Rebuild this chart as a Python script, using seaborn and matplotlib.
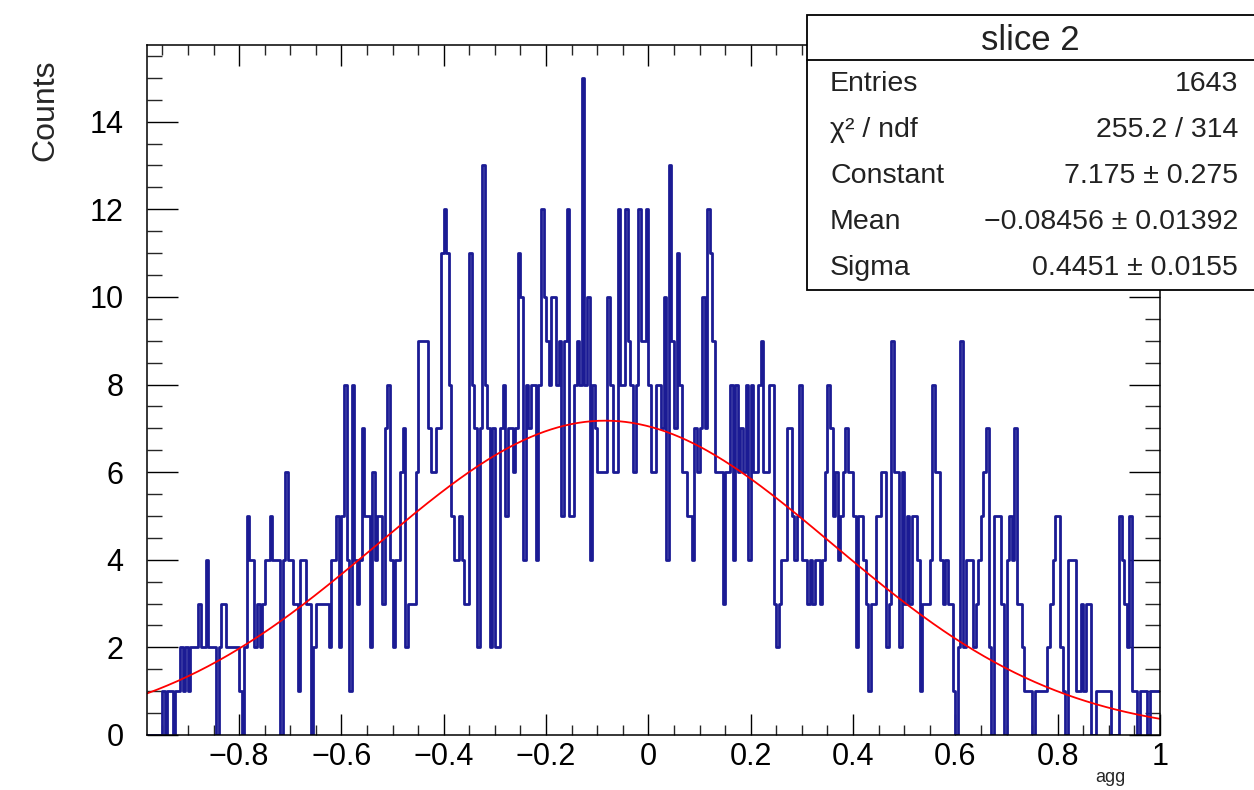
import numpy as np
import pandas as pd
import matplotlib
matplotlib.use("Agg")
import matplotlib.pyplot as plt
import seaborn as sns
from matplotlib.patches import Rectangle
from matplotlib.lines import Line2D
from matplotlib.ticker import MultipleLocator

# ---------------- data ----------------
counts = [
    0, 0, 0, 0, 0, 0, 0, 0, 0, 0,
    1, 0, 1, 1, 0, 1, 1, 2, 1, 2,
    1, 2, 2, 2, 3, 2, 2, 4, 2, 2,
    2, 0, 2, 3, 3, 2, 2, 2, 2, 2,
    1, 0, 2, 5, 4, 4, 2, 3, 2, 3,
    4, 4, 5, 4, 4, 4, 0, 4, 6, 4,
    4, 3, 3, 1, 4, 4, 3, 3, 0, 2,
    3, 3, 3, 3, 3, 2, 4, 4, 5, 2,
    5, 8, 4, 1, 8, 4, 3, 4, 7, 5,
    5, 2, 6, 4, 5, 5, 3, 7, 8, 4,
    2, 4, 4, 6, 7, 2, 3, 3, 3, 6,
    9, 9, 9, 9, 7, 6, 6, 7, 7, 11,
    12, 11, 8, 5, 4, 4, 5, 4, 3, 3,
    11, 8, 7, 2, 7, 13, 8, 7, 2, 7,
    2, 2, 7, 8, 5, 7, 7, 6, 7, 11,
    10, 4, 8, 7, 8, 8, 4, 8, 12, 10,
    9, 8, 10, 10, 8, 9, 5, 9, 12, 5,
    5, 8, 9, 8, 15, 8, 10, 4, 8, 7,
    6, 6, 6, 6, 10, 8, 6, 6, 12, 8,
    8, 12, 9, 8, 6, 8, 12, 9, 9, 12,
    8, 6, 6, 8, 8, 7, 10, 4, 13, 9,
    7, 11, 8, 6, 6, 5, 5, 4, 7, 6,
    7, 10, 7, 12, 11, 9, 6, 6, 6, 3,
    6, 6, 8, 4, 8, 6, 7, 6, 8, 4,
    8, 6, 6, 8, 9, 6, 6, 8, 8, 3,
    2, 3, 4, 4, 7, 7, 5, 4, 5, 8,
    4, 4, 3, 4, 3, 4, 4, 3, 4, 6,
    8, 7, 5, 6, 4, 5, 6, 7, 6, 6,
    5, 2, 5, 5, 4, 3, 1, 3, 3, 5,
    5, 6, 6, 2, 3, 9, 6, 6, 2, 6,
    3, 5, 3, 5, 5, 4, 1, 3, 3, 3,
    4, 8, 6, 6, 4, 3, 4, 3, 3, 1,
    0, 2, 9, 2, 4, 4, 4, 2, 3, 4,
    5, 6, 7, 2, 0, 5, 5, 5, 3, 0,
    4, 5, 4, 7, 3, 3, 2, 1, 1, 1,
    0, 1, 1, 1, 1, 1, 2, 3, 4, 5,
    5, 2, 1, 0, 4, 4, 4, 1, 1, 3,
    1, 3, 3, 0, 0, 1, 1, 1, 1, 1,
    1, 0, 0, 0, 5, 4, 3, 2, 5, 1,
    1, 0, 1, 1, 1, 0, 1, 1, 1, 1,
]
hist_low, hist_high = -1.0, 1.0
view_low, view_high = -0.98, 1.0

fit_constant = 7.175
fit_mean = -0.08456
fit_sigma = 0.4451

stat_title = "slice 2"
stat_labels = ["Entries", "χ² / ndf", "Constant", "Mean", "Sigma"]
stat_values = ["1643", "255.2 / 314", "7.175 ± 0.275",
               "−0.08456 ± 0.01392", "0.4451 ± 0.0155"]

x_ticks = [-0.8, -0.6, -0.4, -0.2, 0.0, 0.2, 0.4, 0.6, 0.8, 1.0]
x_tick_labels = ["−0.8", "−0.6", "−0.4", "−0.2", "0", "0.2", "0.4", "0.6", "0.8", "1"]
y_ticks = [0, 2, 4, 6, 8, 10, 12, 14]
y_tick_labels = ["0", "2", "4", "6", "8", "10", "12", "14"]
x_title = "agg"
y_title = "Counts"

# ---------------- figure ----------------
sns.set_theme(style="ticks")
plt.rcParams['font.family'] = ['Liberation Sans', 'DejaVu Sans']
plt.rcParams['axes.unicode_minus'] = True

W, H = 1254, 790
fig = plt.figure(figsize=(W / 100, H / 100), dpi=100)
fig.patch.set_facecolor("white")

def fx(px):
    return px / W

def fy(py):
    return 1 - py / H

ax_l, ax_r, ax_t, ax_b = 147, 1160, 45, 735
ax = fig.add_axes([fx(ax_l), fy(ax_b), (ax_r - ax_l) / W, (ax_b - ax_t) / H])
ax.set_facecolor("white")

edges = np.linspace(hist_low, hist_high, len(counts) + 1)
centers = 0.5 * (edges[:-1] + edges[1:])
df = pd.DataFrame({"agg": centers, "Counts": counts})

sns.histplot(data=df, x="agg", weights="Counts", bins=list(edges), element="step",
             fill=False, color="#1b1b94", linewidth=2.0, ax=ax)

xf = np.linspace(view_low, view_high, 600)
yf = fit_constant * np.exp(-0.5 * ((xf - fit_mean) / fit_sigma) ** 2)
sns.lineplot(x=xf, y=yf, color="#ff0000", linewidth=1.3, ax=ax, legend=False)

ax.set_xlim(view_low, view_high)
ax.set_ylim(0, 15.75)
ax.set_xlabel("")
ax.set_ylabel("")

ax.set_xticks(x_ticks)
ax.set_xticklabels(x_tick_labels)
ax.set_yticks(y_ticks)
ax.set_yticklabels(y_tick_labels)
ax.xaxis.set_minor_locator(MultipleLocator(0.05))
ax.yaxis.set_minor_locator(MultipleLocator(0.5))

for sp in ax.spines.values():
    sp.set_visible(True)
    sp.set_linewidth(1.1)
    sp.set_color("black")

ax.tick_params(axis="x", which="major", direction="in", length=15, width=1.0,
               top=True, bottom=True, labelsize=22, pad=5, colors="black")
ax.tick_params(axis="x", which="minor", direction="in", length=7.5, width=1.0,
               top=True, bottom=True)
ax.tick_params(axis="y", which="major", direction="in", length=22, width=1.0,
               left=True, right=True, labelsize=22, pad=17, colors="black")
ax.tick_params(axis="y", which="minor", direction="in", length=11, width=1.0,
               left=True, right=True)

# axis titles (ROOT style placement)
fig.text(fx(45), fy(110), y_title, rotation=90, ha="center", va="center", fontsize=23)
fig.text(fx(1110), fy(769), x_title, ha="center", va="top", fontsize=13)

# ---------------- stat box ----------------
box_l, box_t, box_b, box_sep = 807, 15, 290, 60
fig.add_artist(Rectangle((fx(box_l), fy(box_b)), (W + 10 - box_l) / W, (box_b - box_t) / H,
                         transform=fig.transFigure, facecolor="white", edgecolor="black",
                         linewidth=1.3, zorder=10, clip_on=False))
fig.add_artist(Line2D([fx(box_l), 1.01], [fy(box_sep), fy(box_sep)],
                      transform=fig.transFigure, color="black", linewidth=1.3, zorder=11))
fig.text(fx(1030), fy(40), stat_title, ha="center", va="center", fontsize=25,
         color="#222222", zorder=12)
for i, (lab, val) in enumerate(zip(stat_labels, stat_values)):
    yy = fy(84 + 46 * i)
    fig.text(fx(830), yy, lab, ha="left", va="center", fontsize=20.5,
             color="#222222", zorder=12)
    fig.text(fx(1238), yy, val, ha="right", va="center", fontsize=20.5,
             color="#222222", zorder=12)

fig.savefig("out.png", dpi=100, facecolor="white")
